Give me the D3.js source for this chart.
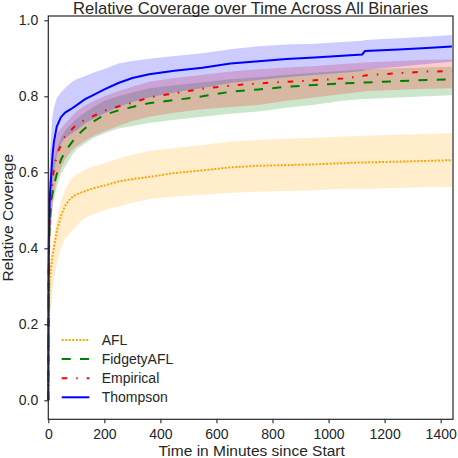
<!DOCTYPE html>
<html>
<head>
<meta charset="utf-8">
<script src="https://cdn.jsdelivr.net/npm/d3@7"></script>
<style>
  body { margin: 0; background: #fff; }
  svg text { font-family: "Liberation Sans", Arial, sans-serif; fill: #262626; }
</style>
</head>
<body>
<svg id="chart"></svg>
<script>
let width = 458;
let height = 458;
let margin = {top: 16, right: 5, bottom: 38.7, left: 48.3};

// minutes since start
let times = [0, 1, 2, 5, 10, 15, 20, 30, 45, 60, 80, 100, 130, 160, 200, 250, 300, 360, 450, 550, 650, 750, 850, 950, 1050, 1120, 1130, 1250, 1350, 1440];

let aflMean = [0, 0.14, 0.22, 0.32, 0.35, 0.38, 0.40, 0.445, 0.485, 0.512, 0.532, 0.542, 0.55, 0.558, 0.565, 0.576, 0.582, 0.588, 0.598, 0.605, 0.613, 0.617, 0.619, 0.621, 0.624, 0.626, 0.626, 0.628, 0.630, 0.632];
let aflLow = [0, 0.08, 0.12, 0.20, 0.25, 0.29, 0.32, 0.355, 0.40, 0.425, 0.443, 0.46, 0.479, 0.49, 0.50, 0.51, 0.52, 0.53, 0.536, 0.541, 0.546, 0.549, 0.551, 0.553, 0.556, 0.557, 0.557, 0.559, 0.561, 0.562];
let aflHigh = [0, 0.2, 0.30, 0.36, 0.39, 0.41, 0.43, 0.475, 0.525, 0.555, 0.58, 0.594, 0.607, 0.615, 0.624, 0.636, 0.646, 0.656, 0.664, 0.672, 0.681, 0.685, 0.688, 0.691, 0.694, 0.696, 0.696, 0.699, 0.701, 0.703];

let fidgetyMean = [0, 0.28, 0.38, 0.47, 0.52, 0.545, 0.565, 0.595, 0.633, 0.655, 0.675, 0.695, 0.715, 0.733, 0.751, 0.763, 0.772, 0.782, 0.79, 0.80, 0.812, 0.818, 0.825, 0.83, 0.834, 0.836, 0.836, 0.840, 0.843, 0.845];
let fidgetyLow = [0, 0.2, 0.3, 0.40, 0.47, 0.505, 0.53, 0.56, 0.595, 0.615, 0.64, 0.66, 0.675, 0.69, 0.703, 0.715, 0.722, 0.73, 0.738, 0.746, 0.754, 0.76, 0.77, 0.778, 0.788, 0.793, 0.793, 0.797, 0.800, 0.803];
let fidgetyHigh = [0, 0.36, 0.45, 0.54, 0.58, 0.61, 0.63, 0.66, 0.69, 0.71, 0.725, 0.74, 0.757, 0.772, 0.788, 0.80, 0.81, 0.821, 0.829, 0.837, 0.845, 0.85, 0.857, 0.862, 0.867, 0.871, 0.871, 0.874, 0.876, 0.878];

let empiricalMean = [0, 0.30, 0.40, 0.48, 0.53, 0.58, 0.606, 0.645, 0.672, 0.695, 0.71, 0.725, 0.738, 0.748, 0.762, 0.773, 0.783, 0.797, 0.808, 0.82, 0.828, 0.834, 0.838, 0.842, 0.847, 0.853, 0.855, 0.861, 0.865, 0.866];
let empiricalLow = [0, 0.2, 0.28, 0.37, 0.45, 0.51, 0.54, 0.58, 0.61, 0.635, 0.655, 0.668, 0.683, 0.695, 0.708, 0.722, 0.735, 0.746, 0.757, 0.766, 0.772, 0.777, 0.788, 0.797, 0.806, 0.812, 0.813, 0.817, 0.82, 0.821];
let empiricalHigh = [0, 0.38, 0.48, 0.57, 0.62, 0.65, 0.675, 0.70, 0.715, 0.728, 0.745, 0.76, 0.775, 0.787, 0.80, 0.813, 0.825, 0.838, 0.848, 0.857, 0.865, 0.871, 0.876, 0.88, 0.885, 0.888, 0.889, 0.893, 0.896, 0.897];

let thompsonMean = [0, 0.32, 0.42, 0.53, 0.59, 0.645, 0.68, 0.72, 0.745, 0.757, 0.766, 0.776, 0.792, 0.803, 0.818, 0.835, 0.848, 0.858, 0.867, 0.875, 0.886, 0.892, 0.898, 0.902, 0.907, 0.910, 0.919, 0.923, 0.927, 0.931];
let thompsonLow = [0, 0.2, 0.28, 0.42, 0.50, 0.56, 0.60, 0.645, 0.675, 0.69, 0.70, 0.71, 0.728, 0.74, 0.755, 0.772, 0.785, 0.797, 0.81, 0.822, 0.835, 0.843, 0.85, 0.856, 0.862, 0.866, 0.87, 0.878, 0.885, 0.891];
let thompsonHigh = [0, 0.45, 0.56, 0.64, 0.70, 0.75, 0.77, 0.795, 0.81, 0.822, 0.835, 0.845, 0.853, 0.862, 0.872, 0.886, 0.893, 0.899, 0.906, 0.913, 0.924, 0.932, 0.936, 0.938, 0.943, 0.946, 0.948, 0.953, 0.957, 0.961];

let seriesNames = ['AFL', 'FidgetyAFL', 'Empirical', 'Thompson'];
let seriesColors = ['orange', 'green', 'red', 'blue'];
let seriesDashes = ['2,1.5', '9,9.3', '5.5,9,1.5,9', null];

let xTicks = [0, 200, 400, 600, 800, 1000, 1200, 1400];
let yTicks = [0.0, 0.2, 0.4, 0.6, 0.8, 1.0];

let svg = d3.select('#chart').attr('width', width).attr('height', height);

let xScale = d3.scaleLinear()
  .domain([0, 1444])
  .range([margin.left, width - margin.right]);

let yScale = d3.scaleLinear()
  .domain([-0.05, 1.0113])
  .range([height - margin.bottom, margin.top]);

let series = [
  {mean: aflMean, low: aflLow, high: aflHigh},
  {mean: fidgetyMean, low: fidgetyLow, high: fidgetyHigh},
  {mean: empiricalMean, low: empiricalLow, high: empiricalHigh},
  {mean: thompsonMean, low: thompsonLow, high: thompsonHigh}
];

let plot = svg.append('g');

let area = d3.area()
  .x(d => xScale(d.t))
  .y0(d => yScale(d.lo))
  .y1(d => yScale(d.hi));

let line = d3.line()
  .x(d => xScale(d.t))
  .y(d => yScale(d.v));

// bands first
series.forEach((s, i) => {
  let rows = times.map((t, k) => ({t: t, lo: s.low[k], hi: s.high[k]}));
  plot.append('path')
    .datum(rows)
    .attr('d', area)
    .attr('fill', seriesColors[i])
    .attr('fill-opacity', 0.2);
});

series.forEach((s, i) => {
  let rows = times.map((t, k) => ({t: t, v: s.mean[k]}));
  plot.append('path')
    .datum(rows)
    .attr('d', line)
    .attr('fill', 'none')
    .attr('stroke', seriesColors[i])
    .attr('stroke-width', 2)
    .attr('stroke-dasharray', seriesDashes[i]);
});

// axes
let xAxis = d3.axisBottom(xScale).tickValues(xTicks).tickFormat(d3.format('d')).tickSize(4).tickPadding(6);
let yAxis = d3.axisLeft(yScale).tickValues(yTicks).tickFormat(d3.format('.1f')).tickSize(4).tickPadding(6);

let gx = svg.append('g')
  .attr('transform', 'translate(0,' + (height - margin.bottom) + ')')
  .call(xAxis);
let gy = svg.append('g')
  .attr('transform', 'translate(' + margin.left + ',0)')
  .call(yAxis);

[gx, gy].forEach(g => {
  g.select('.domain').remove();
  g.selectAll('line').attr('stroke', '#262626').attr('stroke-width', 1.1);
  g.selectAll('text').attr('font-size', '14px').attr('fill', '#262626')
    .style('font-family', '"Liberation Sans", Arial, sans-serif');
});

// frame
svg.append('rect')
  .attr('x', margin.left)
  .attr('y', margin.top)
  .attr('width', width - margin.left - margin.right)
  .attr('height', height - margin.top - margin.bottom)
  .attr('fill', 'none')
  .attr('stroke', '#262626')
  .attr('stroke-width', 1.2);

// title and labels
svg.append('text')
  .attr('x', (margin.left + width - margin.right) / 2)
  .attr('y', 14)
  .attr('text-anchor', 'middle')
  .attr('font-size', '16.6px')
  .text('Relative Coverage over Time Across All Binaries');

svg.append('text')
  .attr('x', (margin.left + width - margin.right) / 2 + 1)
  .attr('y', 455.5)
  .attr('text-anchor', 'middle')
  .attr('font-size', '15.5px')
  .text('Time in Minutes since Start');

svg.append('text')
  .attr('transform', 'translate(12.5,' + ((margin.top + height - margin.bottom) / 2) + ') rotate(-90)')
  .attr('text-anchor', 'middle')
  .attr('font-size', '15.5px')
  .text('Relative Coverage');

// legend
let legend = svg.append('g');
seriesNames.forEach((name, i) => {
  let y = 340 + i * 19.1;
  legend.append('line')
    .attr('x1', 61.7).attr('x2', 89.3)
    .attr('y1', y).attr('y2', y)
    .attr('stroke', seriesColors[i])
    .attr('stroke-width', 2)
    .attr('stroke-dasharray', seriesDashes[i]);
  legend.append('text')
    .attr('x', 101.7)
    .attr('y', y + 5)
    .attr('font-size', '14px')
    .text(name);
});
</script>
</body>
</html>
